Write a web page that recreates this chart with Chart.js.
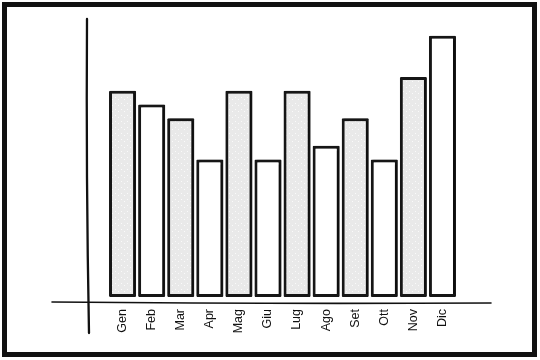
<!DOCTYPE html>
<html>
<head>
<meta charset="utf-8">
<script src="https://cdn.jsdelivr.net/npm/chart.js@4/dist/chart.umd.min.js"></script>
<style>
  html, body { margin: 0; padding: 0; background: #fff; }
  #wrap { width: 540px; height: 360px; }
</style>
</head>
<body>
<div id="wrap"><canvas id="chart" width="540" height="360"></canvas></div>
<script>
const months = ["Gen", "Feb", "Mar", "Apr", "Mag", "Giu", "Lug", "Ago", "Set", "Ott", "Nov", "Dic"];
const values = [15, 14, 13, 10, 15, 10, 15, 11, 13, 10, 16, 19];
const yMax = 20;

// dotted light gray fill like the sketch
function dottedPattern() {
  var c = document.createElement("canvas");
  c.width = 6; c.height = 6;
  var g = c.getContext("2d");
  g.fillStyle = "#e9e9e9";
  g.fillRect(0, 0, 6, 6);
  g.fillStyle = "#fafafa";
  g.fillRect(1, 1, 1, 1);
  g.fillRect(4, 3, 1, 1);
  return g.createPattern(c, "repeat");
}
const grayFill = dottedPattern();
const fills = months.map(function(m, i) { return i % 2 === 0 ? grayFill : "#ffffff"; });

// frame + hand drawn axes
const sketchAxes = {
  id: "sketchAxes",
  beforeDraw: function(chart) {
    var ctx = chart.ctx;
    ctx.save();
    ctx.fillStyle = "#fff";
    ctx.fillRect(0, 0, chart.width, chart.height);
    ctx.restore();
  },
  beforeDatasetsDraw: function(chart) {
    var ctx = chart.ctx;
    ctx.save();
    ctx.shadowColor = "rgba(0,0,0,0.35)";
    ctx.shadowOffsetX = 2;
    ctx.shadowOffsetY = 0;
    ctx.shadowBlur = 1;
  },
  afterDatasetsDraw: function(chart) {
    chart.ctx.restore();
  },
  afterDraw: function(chart) {
    var ctx = chart.ctx;
    var a = chart.chartArea;
    ctx.save();
    ctx.strokeStyle = "#111";
    ctx.lineCap = "round";
    // y axis
    ctx.lineWidth = 2.3;
    ctx.beginPath();
    ctx.moveTo(a.left - 21, a.top - 3);
    ctx.quadraticCurveTo(a.left - 22, a.bottom - 120, a.left - 19, a.bottom + 36);
    ctx.stroke();
    // x axis
    ctx.lineWidth = 1.6;
    ctx.beginPath();
    ctx.moveTo(a.left - 56, a.bottom + 5);
    ctx.quadraticCurveTo(a.left + 150, a.bottom + 7, a.right + 34, a.bottom + 6);
    ctx.stroke();
    // outer frame
    ctx.lineWidth = 5;
    ctx.lineCap = "butt";
    ctx.strokeRect(4.5, 4.5, chart.width - 10, chart.height - 10);
    ctx.restore();
  }
};

new Chart(document.getElementById("chart"), {
  type: "bar",
  data: {
    labels: months,
    datasets: [{
      data: values,
      backgroundColor: fills,
      borderColor: "#161616",
      borderWidth: 3,
      borderSkipped: false,
      borderRadius: 1,
      barPercentage: 0.93,
      categoryPercentage: 1
    }]
  },
  options: {
    responsive: false,
    animation: false,
    layout: { padding: { left: 108, right: 83, top: 22, bottom: 0 } },
    plugins: { legend: { display: false }, tooltip: { enabled: false } },
    scales: {
      y: { display: false, min: 0, max: yMax },
      x: {
        grid: { display: false, drawTicks: false },
        border: { display: false },
        afterFit: function(s) { s.height = 63; },
        ticks: {
          color: "#111",
          font: { family: "Liberation Sans, Arial, sans-serif", size: 12.5 },
          minRotation: 90,
          maxRotation: 90,
          padding: 12
        }
      }
    }
  },
  plugins: [sketchAxes]
});
</script>
</body>
</html>
